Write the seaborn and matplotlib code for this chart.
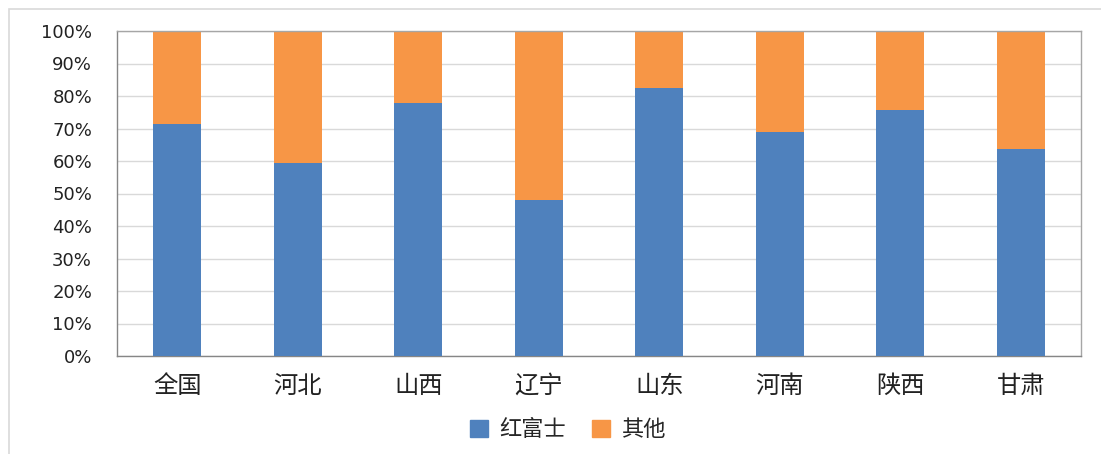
import matplotlib
matplotlib.use("Agg")
import matplotlib.pyplot as plt
import matplotlib.patches as mpatches
import pandas as pd
import seaborn as sns

# data (percent)
regions = ['全国', '河北', '山西', '辽宁', '山东', '河南', '陕西', '甘肃']
fuji = [71.4, 59.5, 78.0, 48.0, 82.5, 69.0, 75.8, 63.6]
others = [100 - v for v in fuji]
series_names = ['红富士', '其他']
yticks = [0, 10, 20, 30, 40, 50, 60, 70, 80, 90, 100]

blue = '#4F81BD'
orange = '#F79646'

df = pd.DataFrame({'region': regions, 'fuji': fuji, 'others': others})
df['total'] = df['fuji'] + df['others']

sns.set_style('white')
plt.rcParams['font.family'] = ['Noto Sans CJK SC', 'DejaVu Sans']

fig = plt.figure(figsize=(11.01, 4.54), dpi=100)
ax = fig.add_axes([117 / 1101, 98 / 454, 964 / 1101, 325 / 454])

# stacked bars: full height in orange, then the 红富士 share in blue on top
sns.barplot(data=df, x='region', y='total', color=orange, width=0.4,
            saturation=1, linewidth=0, ax=ax, zorder=2)
sns.barplot(data=df, x='region', y='fuji', color=blue, width=0.4,
            saturation=1, linewidth=0, ax=ax, zorder=3)

ax.set_ylim(0, 100)
ax.set_xlim(-0.5, len(regions) - 0.5)
ax.set_yticks(yticks)
ax.set_yticklabels([f'{t}%' for t in yticks], fontsize=13, family='DejaVu Sans', color='#222222')
ax.tick_params(axis='x', labelsize=17.5, pad=12, length=0, colors='#222222')
ax.tick_params(axis='y', pad=18, length=0)
ax.set_xlabel('')
ax.set_ylabel('')

ax.yaxis.grid(True, color='#D9D9D9', linewidth=1)
ax.set_axisbelow(True)
for side in ['top', 'right']:
    ax.spines[side].set_color('#A6A6A6')
for side in ['left', 'bottom']:
    ax.spines[side].set_color('#868686')
for s in ax.spines.values():
    s.set_linewidth(1)

# outer chart frame
fig.patches.append(mpatches.Rectangle((9 / 1101, -0.01), 1.02, 1 - 9 / 454 + 0.01,
                                      transform=fig.transFigure, fill=False,
                                      edgecolor='#D9D9D9', linewidth=1.2))

handles = [mpatches.Patch(color=blue, label=series_names[0]),
           mpatches.Patch(color=orange, label=series_names[1])]
fig.legend(handles=handles, loc='center', bbox_to_anchor=(568 / 1101, 24 / 454),
           ncol=2, frameon=False, fontsize=16, handlelength=0.8, handleheight=0.8,
           columnspacing=1.2, handletextpad=0.5)

fig.savefig('out.png', dpi=100)
